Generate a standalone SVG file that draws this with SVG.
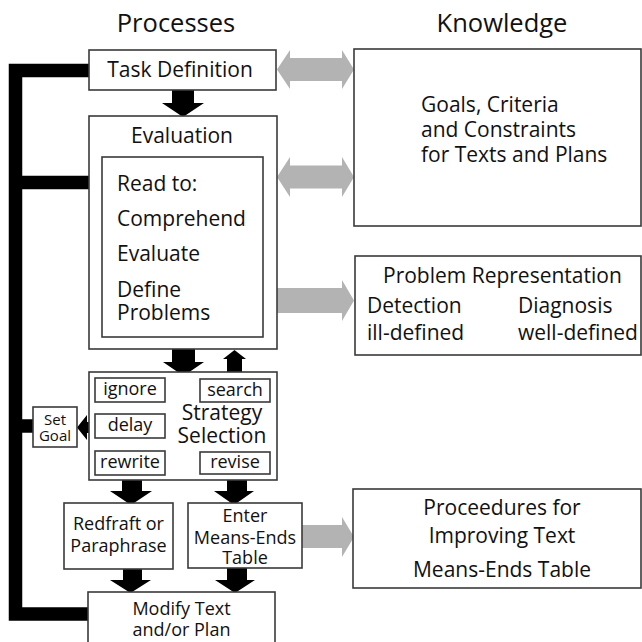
<svg xmlns="http://www.w3.org/2000/svg" width="642" height="642" viewBox="0 0 642 642">
  <style>
    .box { fill: #ffffff; stroke: #3a3a3a; stroke-width: 1.6; }
    .t { font-family: "Open Sans", "Noto Sans", "DejaVu Sans", sans-serif; fill: #111; }
    .c { text-anchor: middle; }
    .hd { font-size: 25.5px; }
    .m { font-size: 21px; }
    .s { font-size: 18px; }
    .xs { font-size: 15px; }
    .loop { fill: none; stroke: #000; stroke-width: 13.5; stroke-linejoin: miter; }
    .blk { fill: #000; }
    .gry { fill: #b3b3b3; }
  </style>

  <!-- column headings -->
  <text class="t hd c" x="176" y="32">Processes</text>
  <text class="t hd c" x="502" y="32">Knowledge</text>

  <!-- connectors -->
  <g id="connectors">
    <!-- feedback loop on the left -->
    <path class="loop" d="M89,70.5 H15.5 V614 H88"/>
    <path class="loop" d="M15.5,182.5 H89"/>
    <path class="loop" d="M15.5,426 H33"/>

    <!-- black flow arrows -->
    <polygon class="blk" points="172,90 194,90 194,103 204,103 183,117 162,103 172,103"/>
    <polygon class="blk" points="172,349 195,349 195,362 204,362 183.5,376 163,362 172,362"/>
    <polygon class="blk" points="227,372 242,372 242,359 246,359 234.5,350 223,359 227,359"/>
    <polygon class="blk" points="95,422 87,422 87,415 77,427.5 87,440 87,433 95,433"/>
    <polygon class="blk" points="122,480 142,480 142,491 152,491 131,505 110,491 122,491"/>
    <polygon class="blk" points="227,480 247,480 247,491 254,491 234,505 214,491 227,491"/>
    <polygon class="blk" points="123,569 142,569 142,580 151,580 130.5,593 110,580 123,580"/>
    <polygon class="blk" points="227,568 247,568 247,580 255,580 235,593 215,580 227,580"/>

    <!-- grey links to the knowledge column -->
    <polygon class="gry" points="277,69.5 290,50 290,58 342,58 342,50 354,69.5 342,89 342,81 290,81 290,89"/>
    <polygon class="gry" points="277,177 290,157 290,165.5 342,165.5 342,157 354,177 342,197 342,188.5 290,188.5 290,197"/>
    <polygon class="gry" points="277,288 342,288 342,280 354,300.5 342,321 342,313 277,313"/>
    <polygon class="gry" points="302,525 342,525 342,517 354,537 342,557 342,548 302,548"/>
  </g>

  <!-- process nodes -->
  <g id="task-definition">
    <rect class="box" x="89" y="50" width="187" height="40"/>
    <text class="t m c" x="180" y="77">Task Definition</text>
  </g>

  <g id="evaluation">
    <rect class="box" x="89" y="116" width="188" height="233"/>
    <text class="t m c" x="182" y="143">Evaluation</text>
    <rect class="box" x="102" y="157" width="161" height="180"/>
    <text class="t m" x="117" y="191">Read to:</text>
    <text class="t m" x="117" y="226">Comprehend</text>
    <text class="t m" x="117" y="261">Evaluate</text>
    <text class="t m" x="117" y="297">Define</text>
    <text class="t m" x="117" y="320">Problems</text>
  </g>

  <g id="strategy-selection">
    <rect class="box" x="89" y="372" width="188" height="108"/>
    <text class="t m c" x="222" y="420">Strategy</text>
    <text class="t m c" x="222" y="443">Selection</text>
    <rect class="box" x="95" y="378" width="70" height="24"/>
    <text class="t s c" x="130" y="395">ignore</text>
    <rect class="box" x="200" y="379" width="70" height="23"/>
    <text class="t s c" x="235" y="396">search</text>
    <rect class="box" x="95" y="414" width="70" height="24"/>
    <text class="t s c" x="130" y="431">delay</text>
    <rect class="box" x="95" y="451" width="70" height="24"/>
    <text class="t s c" x="130" y="468">rewrite</text>
    <rect class="box" x="200" y="452" width="70" height="22"/>
    <text class="t s c" x="235" y="468">revise</text>
  </g>

  <g id="set-goal">
    <rect class="box" x="33" y="407" width="44" height="40"/>
    <text class="t xs c" x="55" y="425">Set</text>
    <text class="t xs c" x="55" y="441">Goal</text>
  </g>

  <g id="redraft">
    <rect class="box" x="64" y="503" width="109" height="66"/>
    <text class="t s c" x="118.5" y="530">Redfraft or</text>
    <text class="t s c" x="118.5" y="552">Paraphrase</text>
  </g>

  <g id="means-ends-entry">
    <rect class="box" x="188" y="503" width="114" height="65"/>
    <text class="t s c" x="245" y="522">Enter</text>
    <text class="t s c" x="245" y="544">Means-Ends</text>
    <text class="t s c" x="245" y="564">Table</text>
  </g>

  <g id="modify">
    <rect class="box" x="88" y="592" width="187" height="70"/>
    <text class="t s c" x="181.5" y="615">Modify Text</text>
    <text class="t s c" x="181.5" y="636">and/or Plan</text>
  </g>

  <!-- knowledge nodes -->
  <g id="goals">
    <rect class="box" x="354" y="49" width="287" height="177"/>
    <text class="t m" x="421" y="112">Goals, Criteria</text>
    <text class="t m" x="421" y="137">and Constraints</text>
    <text class="t m" x="421" y="162">for Texts and Plans</text>
  </g>

  <g id="problem-representation">
    <rect class="box" x="355" y="256" width="286" height="99"/>
    <text class="t m" x="383" y="283">Problem Representation</text>
    <text class="t m" x="367" y="313">Detection</text>
    <text class="t m" x="367" y="340">ill-defined</text>
    <text class="t m" x="518" y="313">Diagnosis</text>
    <text class="t m" x="518" y="340">well-defined</text>
  </g>

  <g id="procedures">
    <rect class="box" x="353" y="489" width="288" height="99"/>
    <text class="t m c" x="502" y="515">Proceedures for</text>
    <text class="t m c" x="502" y="543">Improving Text</text>
    <text class="t m c" x="502" y="577">Means-Ends Table</text>
  </g>
</svg>
